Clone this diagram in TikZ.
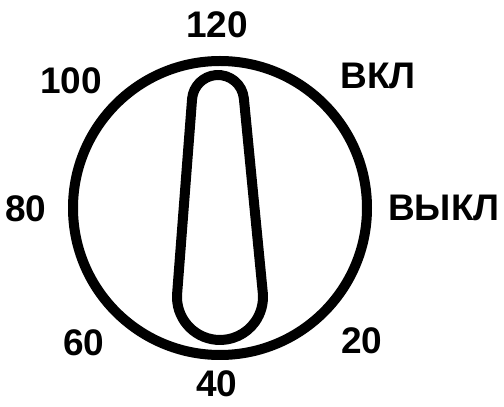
\documentclass[tikz,border=0pt]{standalone}
\usepackage{fontspec}
\setmainfont{Liberation Sans}
\usetikzlibrary{calc}
\begin{document}
\begin{tikzpicture}[x=1pt,y=1pt,
  lbl/.style={inner sep=0pt,anchor=center,font=\fontsize{37}{42}\selectfont\bfseries},
  thick line/.style={line width=10pt,draw=black}]
\useasboundingbox[fill=white] (0,0) rectangle (504,407);
\coordinate (C) at (220,199);
\draw[thick line] (C) circle[radius=147];
\coordinate (A) at (218,306);
\coordinate (B) at (220,110);
\draw[thick line,line join=round] ($(A)+(5:26)$) arc[start angle=5,end angle=175,radius=26]
  -- ($(B)+(175:43)$) arc[start angle=175,end angle=365,radius=43] -- cycle;
\node[lbl] (t120) at (217,382) {120};
\node[lbl] (t100) at (71,326) {100};
\node[lbl] (von) at (378,331) {ВКЛ};
\node[lbl] (t80) at (26,198) {80};
\node[lbl] (voff) at (444,199) {ВЫКЛ};
\node[lbl] (t60) at (84,64) {60};
\node[lbl] (t20) at (362,66) {20};
\node[lbl] (t40) at (217,23) {40};
\end{tikzpicture}
\end{document}
